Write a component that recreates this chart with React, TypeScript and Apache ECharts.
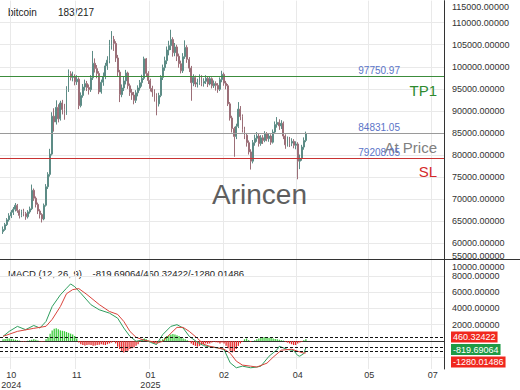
import React, { useEffect, useRef } from 'react';
import * as echarts from 'echarts';

// ---------- data ----------
const SLOT_COUNT = 217;
const FIRST_SLOT = 1;

// [open, close, low, high]
const candles: number[][] = [
  [62600, 63100, 62100, 63800], [63100, 64200, 62800, 64600], [64200, 65300, 63900, 65700], [65300, 66200, 64900, 66800],
  [66200, 67000, 65700, 67500], [67000, 67700, 66400, 68200], [67700, 68600, 67200, 69100], [68600, 67400, 66900, 68900],
  [67400, 66300, 65600, 67700], [66300, 67200, 65900, 67600], [67200, 66700, 66100, 67800], [66700, 66000, 65300, 67100],
  [66000, 67100, 65600, 67500], [67100, 67800, 66700, 68300], [67800, 72000, 67500, 73300], [72000, 70200, 69600, 72400],
  [70200, 68800, 68100, 70600], [68800, 67300, 66600, 69200], [67300, 66500, 65600, 67700], [66500, 65500, 64700, 66800],
  [65500, 68600, 65200, 69000], [68600, 72800, 68300, 73400], [72800, 75600, 72300, 76100], [75600, 80200, 75100, 81400],
  [80200, 88800, 79900, 89700], [88800, 87500, 85300, 90600], [87500, 90800, 86900, 92400], [90800, 88200, 87400, 91500],
  [88200, 91800, 87800, 92300], [91800, 90300, 89200, 92500], [90300, 89500, 88000, 91600], [89500, 94800, 89100, 95600],
  [94800, 98400, 94300, 99400], [98400, 97600, 96900, 99000], [97600, 97800, 96700, 98900], [97800, 96600, 95800, 98300],
  [96600, 97200, 95900, 98100], [97200, 91200, 90400, 97600], [91200, 93500, 90800, 94200], [93500, 95400, 93000, 96100],
  [95400, 96200, 94600, 97100], [96200, 95300, 94500, 96800], [95300, 94800, 93700, 96000], [94800, 97500, 94300, 98100],
  [97500, 100800, 97000, 103600], [100800, 99600, 98700, 101900], [99600, 98500, 97400, 100400], [98500, 94300, 93800, 99000],
  [94300, 96500, 93900, 97100], [96500, 97800, 95700, 98700], [97800, 100200, 97200, 100900], [100200, 101500, 99300, 102400],
  [101500, 104800, 100800, 106100], [104800, 106200, 103900, 108100], [106200, 105300, 103600, 107000], [105300, 102000, 101100, 105800],
  [102000, 98800, 97700, 102700], [98800, 93700, 92000, 99300], [93700, 95200, 93100, 96000], [95200, 96800, 94500, 97800],
  [96800, 98600, 96000, 99300], [98600, 95700, 95000, 98900], [95700, 94200, 93400, 96200], [94200, 93600, 92500, 95000],
  [93600, 92400, 91500, 94300], [92400, 94100, 91800, 94700], [94100, 95200, 93300, 95800], [95200, 96400, 94600, 97000],
  [96400, 97400, 95500, 98200], [97400, 101800, 97000, 102300], [101800, 98500, 97700, 102000], [98500, 96900, 96100, 99000],
  [96900, 95100, 94400, 97300], [95100, 94300, 93200, 95700], [94300, 93400, 92100, 94900], [93400, 91600, 89000, 94000],
  [91600, 93500, 91000, 94100], [93500, 97600, 93100, 98100], [97600, 99800, 97000, 100500], [99800, 101400, 99100, 102300],
  [101400, 103800, 100600, 104600], [103800, 104800, 102600, 105900], [104800, 106200, 103800, 108400], [106200, 103200, 102300, 106700],
  [103200, 104500, 102400, 105400], [104500, 102400, 101300, 105000], [102400, 100700, 99800, 103000], [100700, 99100, 98500, 101400],
  [99100, 102300, 98600, 103100], [102300, 104400, 101800, 106000], [104400, 101700, 100900, 104900], [101700, 99700, 98800, 102200],
  [99700, 96400, 92300, 100200], [96400, 97600, 95600, 98300], [97600, 96100, 95400, 98000], [96100, 96400, 95300, 97300],
  [96400, 97800, 95900, 98300], [97800, 96300, 95600, 98100], [96300, 96700, 95500, 97400], [96700, 97400, 96100, 98100],
  [97400, 96100, 95400, 97800], [96100, 97300, 95800, 97900], [97300, 95700, 95100, 97600], [95700, 96200, 95200, 96900],
  [96200, 95800, 94600, 96700], [95800, 94900, 94100, 96300], [94900, 97100, 94500, 97600], [97100, 98300, 96500, 99100],
  [98300, 96300, 95700, 98700], [96300, 95700, 94900, 96800], [95700, 91600, 91100, 96100], [91600, 88400, 87800, 92000],
  [88400, 86000, 85100, 88900], [86000, 84200, 79600, 86400], [84200, 86500, 83600, 87100], [86500, 90400, 86100, 92000],
  [90400, 88700, 87900, 91100], [88700, 85800, 85100, 89200], [85800, 84500, 83600, 86400], [84500, 82800, 81900, 85000],
  [82800, 80700, 80100, 83300], [80700, 78600, 76700, 81300], [78600, 82800, 78100, 83400], [82800, 83800, 82100, 84600],
  [83800, 84300, 83000, 85200], [84300, 82600, 81900, 84800], [82600, 83900, 82100, 84500], [83900, 83300, 82500, 84500],
  [83300, 84800, 82900, 85400], [84800, 83700, 83100, 85200], [83700, 84300, 83000, 84900], [84300, 82900, 82300, 84700],
  [82900, 85200, 82600, 85800], [85200, 86900, 84800, 87600], [86900, 87400, 86200, 88600], [87400, 86600, 85700, 88100],
  [86600, 87200, 85900, 87900], [87200, 84300, 83600, 87600], [84300, 82300, 81400, 84700], [82300, 83600, 81900, 84200],
  [83600, 82700, 81800, 84100], [82700, 83100, 82000, 83800], [83100, 82200, 81500, 83600], [82200, 82500, 81300, 83100],
  [82500, 78600, 74500, 82900], [78600, 79200, 76800, 80100], [79200, 81800, 78700, 82300], [81800, 83300, 81200, 84000],
  [83300, 84820, 82900, 85300],
];

const tickIndex = [5, 37, 73, 109, 145, 180, 211];
const tickText = ['10\n2024', '11', '01\n2025', '02', '04', '05', '07'];

const PRICE_MIN = 55000;
const PRICE_MAX = 115000;
const PRICE_STEP = 5000;
const MACD_MIN = -3440;
const MACD_MAX = 10000;
const macdLabelValues = [2000, 4000, 6000, 8000];

const tpLevel = 97750.97;
const atPriceLevel = 84831.05;
const slLevel = 79208.05;
const lastPrice = 84819.73047;

const macdDif = -819.69064;
const macdDea = 460.32422;
const macdHist = -1280.01486;

// [slot index, value]
const difPoints: number[][] = [
  [1, 570], [4, 1180], [8, 1790], [12, 1390], [16, 1900], [19, 1590], [22, 2400], [25, 4230], [29, 5660],
  [32, 6470], [34, 7000], [36, 6670], [39, 5860], [44, 4440], [48, 3830], [53, 3420], [57, 2800], [60, 1590],
  [63, 570], [66, -40], [70, 170], [73, -160], [76, -440], [79, 780], [83, 1790], [86, 2000], [89, 1590],
  [92, 570], [96, -160], [99, -570], [102, -730], [106, -850], [109, -1050], [112, -2680], [115, -3290],
  [118, -3090], [122, -3290], [125, -3200], [127, -3090], [131, -1870], [135, -1050], [136, -650], [140, -1050],
  [143, -1170], [145, -1780], [146, -1870], [148, -1540], [149, -820],
];
const deaPoints: number[][] = [
  [1, 570], [8, 1180], [16, 1550], [22, 1800], [25, 2650], [29, 4230], [32, 5800], [35, 6300], [38, 6430],
  [42, 5700], [48, 4470], [53, 3620], [57, 3260], [60, 2400], [63, 1180], [66, 450], [70, 90], [73, -40],
  [76, -280], [79, -40], [83, 940], [86, 1670], [89, 1670], [92, 1180], [96, 330], [99, -400], [102, -650],
  [109, -1010], [112, -1500], [115, -2480], [118, -2960], [122, -3090], [125, -3200], [130, -2720], [133, -1990],
  [137, -1130], [142, -1010], [145, -1260], [148, -1500], [149, -1450],
];
// histogram, one value per candle
const histValues: number[] = [
  200, 250, 300, 300, 250, 200, 150, 100, 50, -50, -80, -50,
  30, 80, 150, 200, 150, 50, -50, -100, -50,
  200, 500, 900, 1300, 1500, 1550, 1450, 1300, 1250, 1200, 1100, 1000, 900, 800, 600, 300,
  -200, -400, -500, -550, -500, -450, -500, -600, -550, -500, -450, -400, -450, -500, -400, -300,
  -200, -100, -300,
  -700, -1000, -1300, -1400, -1300, -1200, -1000, -900, -800, -600, -400,
  -100, 150, 300, 200,
  50, -100, -200, -300, -200, -100, 50,
  200, 400, 600, 700, 800, 850, 800, 700, 600, 500, 300, 200, 100,
  -100, -300, -500, -600, -700, -600, -500, -400, -300, -350, -300, -200, -100, -150, -200, -300,
  -200, -300,
  -600, -900, -1200, -1400, -1300, -1000, -600,
  -300, -100, 200, 300, 100, -100, 0, 100, 200,
  300, 400, 450, 500, 450, 400, 350, 300, 250, 200, 150, 100, 50, -100, -200,
  -300, -400, -500, -500, -300, -200, -100, 100, 200,
];

// ---------- chart ----------
const FONT = 'Liberation Sans, Arial, sans-serif';

export default function App() {
  const ref = useRef<HTMLDivElement>(null);

  useEffect(() => {
    document.body.style.margin = '0';
    if (!ref.current) return;
    const chart = echarts.init(ref.current, undefined, { renderer: 'svg' });

    const categories = Array.from({ length: SLOT_COUNT }, (_, i) => String(i));
    const lead = Array.from({ length: FIRST_SLOT }, () => '-');
    const candleData: any[] = [...lead, ...candles];
    const histData: any[] = [...lead, ...histValues];
    const isTick = (idx: number) => tickIndex.indexOf(idx) >= 0;

    const gridLine = { color: '#e9e9e9', width: 1 };

    const option: any = {
      animation: false,
      textStyle: { fontFamily: FONT },
      grid: [
        { left: 0, right: 76, top: 0.65, height: 264.6, containLabel: false, outerBoundsMode: 'none' },
        { left: 0, right: 76, top: 259.5, height: 109.5, containLabel: false, outerBoundsMode: 'none' },
      ],
      xAxis: [
        {
          type: 'category', gridIndex: 0, data: categories, boundaryGap: true,
          axisLine: { show: false }, axisTick: { show: false }, axisLabel: { show: false },
          splitLine: { show: true, interval: (i: number) => isTick(i), lineStyle: gridLine },
        },
        {
          type: 'category', gridIndex: 1, data: categories, boundaryGap: true,
          axisLine: { show: true, lineStyle: { color: '#333', width: 1 } },
          axisTick: { show: false },
          axisLabel: {
            interval: (i: number) => isTick(i),
            formatter: (_v: string, i: number) => {
              const k = tickIndex.indexOf(i);
              return k >= 0 ? tickText[k] : '';
            },
            fontSize: 9, color: '#333', lineHeight: 10, margin: 1, fontFamily: FONT,
          },
          splitLine: { show: true, interval: (i: number) => isTick(i), lineStyle: gridLine },
        },
      ],
      yAxis: [
        {
          type: 'value', gridIndex: 0, position: 'right', min: PRICE_MIN, max: PRICE_MAX, interval: PRICE_STEP,
          axisLine: { show: true, lineStyle: { color: '#333', width: 1 } },
          axisTick: { show: false },
          axisLabel: {
            margin: 8, fontSize: 9, color: '#333', fontFamily: FONT, hideOverlap: false,
            formatter: (v: number) => {
              const s = v.toFixed(5);
              if (v === PRICE_MAX) return '{t| }\n{t|' + s + '}';
              if (v === PRICE_MIN) return '{b|' + s + '}\n{b| }';
              return s;
            },
            rich: {
              t: { lineHeight: 12, fontSize: 9, color: '#333', fontFamily: FONT },
              b: { lineHeight: 18, fontSize: 9, color: '#333', fontFamily: FONT },
            },
          },
          splitLine: { show: true, lineStyle: gridLine, showMinLine: false, showMaxLine: false },
        },
        {
          type: 'value', gridIndex: 1, position: 'right', min: MACD_MIN, max: MACD_MAX,
          minInterval: 2000, maxInterval: 2000, splitNumber: 7,
          axisLine: { show: true, lineStyle: { color: '#333', width: 1 } },
          axisTick: { show: false },
          axisLabel: {
            margin: 8, fontSize: 9, color: '#333', fontFamily: FONT, hideOverlap: false,
            customValues: macdLabelValues,
            formatter: (v: number) => (macdLabelValues.indexOf(v) >= 0 ? v.toFixed(5) : ''),
          },
          splitLine: { show: true, lineStyle: gridLine, showMinLine: false, showMaxLine: false },
        },
      ],
      series: [
        {
          type: 'candlestick', xAxisIndex: 0, yAxisIndex: 0, data: candleData, barWidth: 1.4,
          itemStyle: {
            color: '#7cc6b9', color0: '#e6a2b0',
            borderColor: '#5d8c86', borderColor0: '#9c6f78', borderWidth: 1,
          },
          markLine: {
            silent: true, symbol: ['none', 'none'], animation: false,
            data: [
              {
                yAxis: tpLevel, lineStyle: { color: '#3c8c3c', width: 1, type: 'solid' },
                label: { show: true, position: 'insideEndTop', formatter: tpLevel.toFixed(2), color: '#5a74c8', fontSize: 10, distance: [44, 1], fontFamily: FONT },
              },
              {
                yAxis: tpLevel, lineStyle: { color: '#3c8c3c', width: 1, type: 'solid' },
                label: { show: true, position: 'insideEndBottom', formatter: 'TP1', color: '#2e8a2e', fontSize: 15, distance: [7, 6], fontFamily: FONT },
              },
              {
                yAxis: atPriceLevel, lineStyle: { color: '#9a9a9a', width: 1, type: 'solid' },
                label: { show: true, position: 'insideEndTop', formatter: atPriceLevel.toFixed(2), color: '#5a74c8', fontSize: 10, distance: [44, 1], fontFamily: FONT },
              },
              {
                yAxis: atPriceLevel, lineStyle: { color: '#9a9a9a', width: 1, type: 'solid' },
                label: { show: true, position: 'insideEndBottom', formatter: 'At Price', color: '#808080', fontSize: 15, distance: [7, 6], fontFamily: FONT },
              },
              {
                yAxis: slLevel, lineStyle: { color: '#c83232', width: 1, type: 'solid' },
                label: { show: true, position: 'insideEndTop', formatter: slLevel.toFixed(2), color: '#5a74c8', fontSize: 10, distance: [44, 1], fontFamily: FONT },
              },
              {
                yAxis: slLevel, lineStyle: { color: '#c83232', width: 1, type: 'solid' },
                label: { show: true, position: 'insideEndBottom', formatter: 'SL', color: '#d42a2a', fontSize: 15, distance: [7, 6], fontFamily: FONT },
              },
              {
                yAxis: lastPrice, lineStyle: { opacity: 0 },
                label: {
                  show: true, position: 'end', formatter: lastPrice.toFixed(5), color: '#fff', fontSize: 9,
                  backgroundColor: '#26a58f', padding: [1, 2], distance: 7, fontFamily: FONT,
                },
              },
            ],
          },
        },
        {
          type: 'bar', xAxisIndex: 1, yAxisIndex: 1, data: histData, barWidth: 1.3,
          itemStyle: { color: (p: any) => (p.value >= 0 ? '#3fcc3f' : '#e62a2a') },
          markLine: {
            silent: true, symbol: ['none', 'none'], animation: false,
            lineStyle: { color: '#111', width: 1, type: [3, 2] },
            label: { show: false },
            data: [{ yAxis: macdDea }, { yAxis: macdDif }, { yAxis: macdHist }],
          },
        },
        {
          type: 'line', xAxisIndex: 1, yAxisIndex: 1, data: difPoints, showSymbol: false, symbol: 'none',
          lineStyle: { color: '#2f9e5e', width: 1 },
        },
        {
          type: 'line', xAxisIndex: 1, yAxisIndex: 1, data: deaPoints, showSymbol: false, symbol: 'none',
          lineStyle: { color: '#d9443c', width: 1 },
        },
      ],
      graphic: [
        { type: 'line', shape: { x1: 0, y1: 259.5, x2: 520, y2: 259.5 }, style: { stroke: '#333', lineWidth: 1 }, z: 10 },
        { type: 'text', left: 8, top: 7, style: { text: 'bitcoin', fontSize: 10, fill: '#222', fontFamily: FONT } },
        { type: 'text', left: 58, top: 7, style: { text: '183/217', fontSize: 10, fill: '#222', fontFamily: FONT } },
        {
          type: 'text', left: 8, top: 268,
          style: { text: 'MACD (12, 26, 9)    ' + macdDif.toFixed(5) + '/' + macdDea.toFixed(5) + '/' + macdHist.toFixed(5), fontSize: 9.5, fill: '#222', fontFamily: FONT },
        },
        {
          type: 'text', x: 452, y: 267, z: 20,
          style: { text: MACD_MAX.toFixed(5), fontSize: 9, fill: '#333', verticalAlign: 'middle', fontFamily: FONT },
        },
        {
          type: 'text', x: 259.5, y: 194, z: 5,
          style: { text: 'Arincen', fontSize: 28, fill: '#5e5e5e', align: 'center', verticalAlign: 'middle', fontFamily: FONT },
        },
        {
          type: 'text', x: 451, y: 337, z: 20,
          style: { text: macdDea.toFixed(5), fontSize: 9, fill: '#fff', backgroundColor: '#f0281e', padding: [1, 2], verticalAlign: 'middle', fontFamily: FONT },
        },
        {
          type: 'text', x: 451, y: 349.5, z: 20,
          style: { text: macdDif.toFixed(5), fontSize: 9, fill: '#fff', backgroundColor: '#1f9a45', padding: [1, 2], verticalAlign: 'middle', fontFamily: FONT },
        },
        {
          type: 'text', x: 451, y: 362, z: 20,
          style: { text: macdHist.toFixed(5), fontSize: 9, fill: '#fff', backgroundColor: '#f0281e', padding: [1, 2], verticalAlign: 'middle', fontFamily: FONT },
        },
      ],
    };

    chart.setOption(option);
    return () => chart.dispose();
  }, []);

  return <div ref={ref} style={{ width: 520, height: 390 }} />;
}
